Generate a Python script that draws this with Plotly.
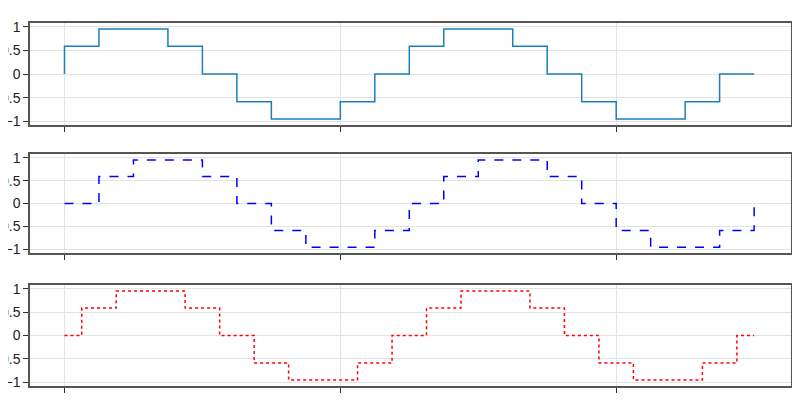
import plotly.graph_objects as go

x = list(range(21))
y = [0, 0.588, 0.951, 0.951, 0.588, 0, -0.588, -0.951, -0.951, -0.588,
     0, 0.588, 0.951, 0.951, 0.588, 0, -0.588, -0.951, -0.951, -0.588, 0]
shapes = ["vh", "hv", "hvh"]
colors = ["#1a80bb", "blue", "red"]
dashes = ["solid", "dash", "dot"]

fig = go.Figure()
doms = [[0.719, 1.0], [0.366, 0.639], [0.0, 0.278]]
for i in range(3):
    n = "" if i == 0 else str(i + 1)
    fig.add_trace(go.Scatter(x=x, y=y, mode="lines", line=dict(shape=shapes[i], color=colors[i], dash=dashes[i], width=1.5),
                             xaxis="x" + n, yaxis="y" + n, showlegend=False))
    ax = dict(showline=True, linecolor="#555", linewidth=1.5, mirror=True, gridcolor="#e3e3e3",
              ticks="outside", ticklen=5, tickcolor="#333", zeroline=False, automargin=False)
    fig.layout["xaxis" + n] = dict(ax, domain=[0, 1], anchor="y" + n, range=[-1, 21.07],
                                   tickvals=[0, 8, 16], showticklabels=False)
    fig.layout["yaxis" + n] = dict(ax, domain=doms[i], anchor="x" + n, range=[-1.08, 1.08],
                                   tickvals=[-1, -0.5, 0, 0.5, 1], tickfont=dict(size=14, color="#222"))
fig.update_layout(width=800, height=400, margin=dict(l=22, r=17, t=15, b=22),
                  plot_bgcolor="white", paper_bgcolor="white", font=dict(family="Liberation Sans"))
fig.write_html("out.html")
